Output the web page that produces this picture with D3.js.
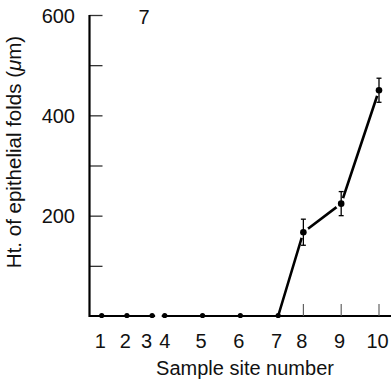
<!DOCTYPE html>
<html>
<head>
<meta charset="utf-8">
<script src="https://cdn.jsdelivr.net/npm/d3@7"></script>
<style>
  body { margin: 0; background: #fff; }
  text { font-family: "Liberation Sans", Arial, sans-serif; fill: #111; }
</style>
</head>
<body>
<div id="chart"></div>
<script>
// data
const sites = [1, 2, 3, 4, 5, 6, 7, 8, 9, 10];
// relative distance along the gut for each sample site
const sitePosition = [0, 1, 2, 2.5, 4, 5.5, 7, 8, 9.5, 11];
const foldHeight = [0, 0, 0, 0, 0, 0, 0, 167, 224, 450];
const foldError = [0, 0, 0, 0, 0, 0, 0, 26, 24, 24];
const yMajorTicks = [200, 400, 600];
const yMinorTicks = [100, 300, 500];
const xTickSites = [8, 9, 10];
const panelLabel = "7";

// setting canvas
const width = 391;
const height = 386;
const fontSize = "20px";

const x = d3.scaleLinear().domain([0, 11]).range([101.7, 379]);
const y = d3.scaleLinear().domain([0, 600]).range([316, 15]);

const svg = d3.select("#chart")
  .append("svg")
  .attr("width", width)
  .attr("height", height);

const axisX = 89.5;

// y axis
const yAxis = svg.append("g")
  .attr("transform", "translate(" + axisX + ",0)")
  .call(d3.axisRight(y).tickValues(yMajorTicks.concat(yMinorTicks)).tickSize(13).tickFormat(""));
yAxis.select(".domain").remove();
yAxis.selectAll(".tick line").attr("stroke", "#333").attr("stroke-width", 1.3);
svg.append("line")
  .attr("x1", axisX).attr("x2", axisX)
  .attr("y1", y(600)).attr("y2", y(0) + 1)
  .attr("stroke", "#000").attr("stroke-width", 2.2);

svg.selectAll(".ylab")
  .data(yMajorTicks)
  .enter().append("text")
  .attr("class", "ylab")
  .attr("x", 75)
  .attr("y", d => y(d))
  .attr("dy", "0.38em")
  .attr("text-anchor", "end")
  .style("font-size", fontSize)
  .text(d => d);

// x axis baseline, broken between sites 3 and 4
const pos = i => x(sitePosition[i]);
svg.append("line")
  .attr("x1", axisX).attr("x2", pos(2) + 3)
  .attr("y1", y(0)).attr("y2", y(0))
  .attr("stroke", "#000").attr("stroke-width", 2.2);
svg.append("line")
  .attr("x1", pos(3) - 3).attr("x2", width)
  .attr("y1", y(0)).attr("y2", y(0))
  .attr("stroke", "#000").attr("stroke-width", 2.2);

// x ticks (only visible at later sites)
svg.selectAll(".xtick")
  .data(xTickSites)
  .enter().append("line")
  .attr("class", "xtick")
  .attr("x1", d => pos(sites.indexOf(d)))
  .attr("x2", d => pos(sites.indexOf(d)))
  .attr("y1", y(0))
  .attr("y2", y(0) - 12)
  .attr("stroke", "#555")
  .attr("stroke-width", 1.1);

// labels sit a little left of their site; "3" is pushed further to clear "4"
svg.selectAll(".xlab")
  .data(sites)
  .enter().append("text")
  .attr("class", "xlab")
  .attr("x", (d, i) => pos(i) - (d === 3 ? 5.5 : d === 4 ? 0 : 1.5))
  .attr("y", 348)
  .attr("text-anchor", "middle")
  .style("font-size", fontSize)
  .text(d => d);

// axis titles
svg.append("text")
  .attr("x", 245)
  .attr("y", 375)
  .attr("text-anchor", "middle")
  .style("font-size", fontSize)
  .text("Sample site number");

const yTitle = svg.append("text")
  .attr("transform", "translate(21,152) rotate(-90)")
  .attr("text-anchor", "middle")
  .style("font-size", "20.5px");
yTitle.append("tspan").text("Ht. of epithelial folds (");
yTitle.append("tspan").style("font-style", "italic").text("\u03bc");
yTitle.append("tspan").text("m)");

svg.append("text")
  .attr("x", 144)
  .attr("y", 24)
  .attr("text-anchor", "middle")
  .style("font-size", fontSize)
  .text(panelLabel);

// data line: sites 7 to 10 rise off the baseline
const pts = sites.map((s, i) => ({ site: s, x: pos(i), y: y(foldHeight[i]), v: foldHeight[i], e: foldError[i] }));
const line = d3.line().x(d => d.x).y(d => d.y);
svg.append("path")
  .datum(pts.slice(6))
  .attr("d", line)
  .attr("fill", "none")
  .attr("stroke", "#000")
  .attr("stroke-width", 2.6);

const raised = pts.filter(d => d.v > 0);

// white halo round raised points
svg.selectAll(".halo")
  .data(raised)
  .enter().append("circle")
  .attr("cx", d => d.x).attr("cy", d => d.y)
  .attr("r", 6)
  .attr("fill", "#fff");

// error bars
const eb = svg.selectAll(".err")
  .data(raised)
  .enter().append("g")
  .attr("class", "err")
  .attr("stroke", "#000")
  .attr("stroke-width", 1.3);
eb.append("line")
  .attr("x1", d => d.x).attr("x2", d => d.x)
  .attr("y1", d => y(d.v + d.e)).attr("y2", d => y(d.v - d.e));
eb.append("line")
  .attr("x1", d => d.x - 2.5).attr("x2", d => d.x + 2.5)
  .attr("y1", d => y(d.v + d.e)).attr("y2", d => y(d.v + d.e));
eb.append("line")
  .attr("x1", d => d.x - 2.5).attr("x2", d => d.x + 2.5)
  .attr("y1", d => y(d.v - d.e)).attr("y2", d => y(d.v - d.e));

svg.selectAll(".dot")
  .data(pts)
  .enter().append("circle")
  .attr("class", "dot")
  .attr("cx", d => d.x).attr("cy", d => d.y - (d.v > 0 ? 0 : 0.5))
  .attr("r", d => d.v > 0 ? 3.3 : 2.6)
  .attr("fill", "#000");
</script>
</body>
</html>
